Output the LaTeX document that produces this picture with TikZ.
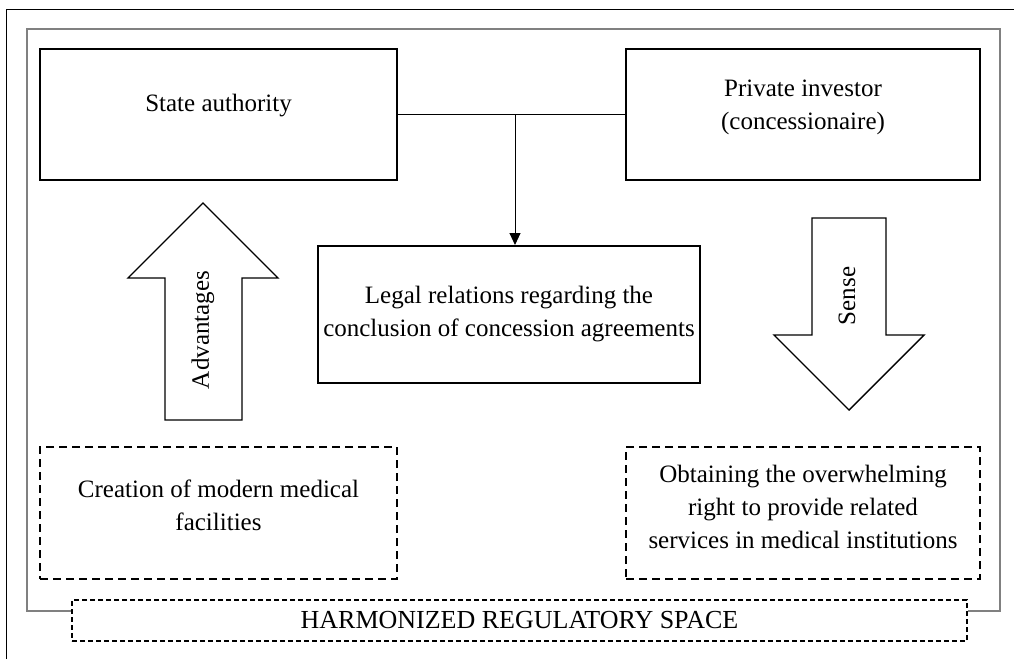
\documentclass[tikz,border=0pt]{standalone}
\usepackage{fontspec}
\setmainfont{Liberation Serif}
\usetikzlibrary{arrows.meta}

\begin{document}
\begin{tikzpicture}[x=1pt, y=-1pt,
  every node/.style={font=\fontsize{25}{33}\selectfont, inner sep=0pt},
  box/.style={draw, line width=2pt, align=center},
  dashbox/.style={draw, line width=2pt, dash pattern=on 8pt off 5pt},
  blockarrow/.style={draw, line width=1.4pt, fill=white}]
\useasboundingbox (0,0) rectangle (1014,659);
\draw[line width=1pt] (6,659) -- (6,9) -- (1014,9);
\node[box, minimum width=357pt, minimum height=131pt, label={[yshift=9pt]center:State authority}] (state) at (218.5,114.5) {};
\node[box, minimum width=354pt, minimum height=131pt, label={[yshift=7pt, align=center]center:Private investor\\(concessionaire)}] (investor) at (803,114.5) {};
\node[box, minimum width=382pt, minimum height=137pt] (legal) at (509,314.5) {Legal relations regarding the\\conclusion of concession agreements};
\node[dashbox, minimum width=357pt, minimum height=132pt, label={[yshift=7.5pt, align=center]center:Creation of modern medical\\facilities}] (creation) at (218.5,513) {};
\node[dashbox, minimum width=354pt, minimum height=132pt, label={[yshift=6pt, align=center]center:Obtaining the overwhelming\\right to provide related\\services in medical institutions}] (obtaining) at (803,513) {};
\node[draw, line width=2pt, dash pattern=on 5pt off 3pt, minimum width=895pt, minimum height=41pt, font=\fontsize{26}{33}\selectfont] (space) at (519.5,620.5) {HARMONIZED REGULATORY SPACE};
\draw[gray, line width=1.3pt] ([yshift=9.5pt]space.west) -| (27,29) -| (1000,611) -- ([yshift=9.5pt]space.east);
\coordinate (mid) at (515,114.5);
\draw[line width=1pt] (state.east) -- (investor.west);
\draw[line width=1pt, -{Triangle[length=12pt, width=11pt]}] (mid) -- (mid |- legal.north);
% block arrows
\draw[blockarrow] (165,420) -- (165,278) -- (128,278) -- (203,203) -- (278,278) -- (242,278) -- (242,420) -- cycle;
\node[rotate=90] (advantages) at (203,330) {Advantages};
\draw[blockarrow] (812,218) -- (812,335) -- (774,335) -- (849,410) -- (924,335) -- (886,335) -- (886,218) -- cycle;
\node[rotate=90] (sense) at (847,296) {Sense};
\end{tikzpicture}
\end{document}
